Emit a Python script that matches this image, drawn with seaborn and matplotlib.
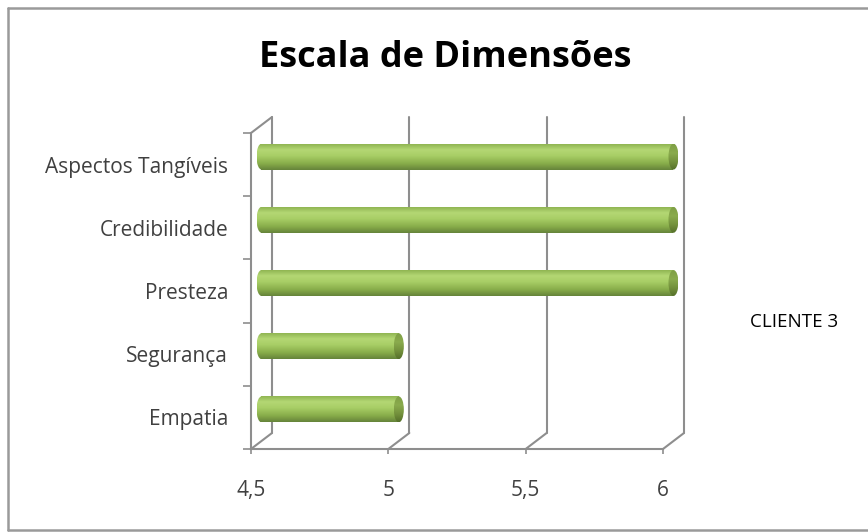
import numpy as np
import pandas as pd
import matplotlib
matplotlib.use("Agg")
import matplotlib.pyplot as plt
import seaborn as sns
from matplotlib.transforms import ScaledTranslation
from matplotlib.patches import Ellipse
from matplotlib.colors import LinearSegmentedColormap
from matplotlib.lines import Line2D

# ---- data -------------------------------------------------------------
dimensoes = ["Aspectos Tangíveis", "Credibilidade", "Presteza", "Segurança", "Empatia"]
valores = [6, 6, 6, 5, 5]
ticks_x = [4.5, 5, 5.5, 6]
rotulos_x = ["4,5", "5", "5,5", "6"]
serie = "CLIENTE 3"
titulo = "Escala de Dimensões"

# ---- figure -----------------------------------------------------------
W, H, DPI = 868, 532, 100
sns.set_theme(style="white")
plt.rcParams["font.family"] = ["Open Sans", "DejaVu Sans"]

fig = plt.figure(figsize=(W / DPI, H / DPI), dpi=DPI)
fig.patch.set_facecolor("white")

# front face of the 3-D plot box, in pixels from the top-left corner
L, R, T, B = 251, 663, 133, 449
DX, DY = 21, 16          # depth offset of the back wall, in pixels
ax = fig.add_axes([L / W, (H - B) / H, (R - L) / W, (B - T) / H])
ax.patch.set_alpha(0)

GRID = "#8e8e8e"
df = pd.DataFrame({"dimensao": dimensoes, "valor": valores})
bar_h = 0.41
sns.barplot(data=df, x="valor", y="dimensao", orient="h", width=bar_h,
            color="#9fc75e", ax=ax, zorder=3)

x0, x1 = ticks_x[0], ticks_x[-1]
ax.set_xlim(x0, x1)
ax.set_ylim(len(dimensoes) - 0.5, -0.5)
ax.set_xlabel("")
ax.set_ylabel("")


def shifted(dx, dy):
    return ax.transData + ScaledTranslation(dx / DPI, dy / DPI, fig.dpi_scale_trans)


mid = shifted(DX / 2, DY / 2)
back = shifted(DX, DY)

# ---- 3-D box: back wall gridlines and floor diagonals ----------------
ybot, ytop = ax.get_ylim()
for x in ticks_x:
    ax.add_line(Line2D([x, x], [ybot, ytop], transform=back, color=GRID,
                       lw=1.5, clip_on=False, zorder=1))
    fx, fy = ax.transData.transform((x, ybot))
    ax.add_line(Line2D([fx, fx + DX], [fy, fy + DY], transform=None,
                       color=GRID, lw=1.5, clip_on=False, zorder=1))
fx, fy = ax.transData.transform((x0, ytop))
ax.add_line(Line2D([fx, fx + DX], [fy, fy + DY], transform=None,
                   color=GRID, lw=1.5, clip_on=False, zorder=1))

# ---- cylinder shading -------------------------------------------------
body_cmap = LinearSegmentedColormap.from_list(
    "body", [(0.0, "#8fb552"), (0.22, "#b4d774"), (0.45, "#a8ce66"),
             (0.75, "#88ad4a"), (1.0, "#65833a")])
cap_cmap = LinearSegmentedColormap.from_list(
    "cap", [(0.0, "#7f9f45"), (0.35, "#8aab4d"), (0.7, "#728f3b"),
            (1.0, "#55702a")])
grad = np.linspace(0, 1, 256).reshape(-1, 1)
px_per_unit = (R - L) / (x1 - x0)
rx = 5 / px_per_unit      # horizontal radius of the cylinder ends

for patch in list(ax.patches):
    h = patch.get_height()
    yc = patch.get_y() + h / 2
    val = patch.get_x() + patch.get_width()
    patch.set_x(x0)
    patch.set_width(val - x0)
    patch.set_transform(mid)
    patch.set_clip_on(False)
    patch.set_edgecolor("none")

    ext = (x0 - rx, val, yc + h / 2, yc - h / 2)
    im = ax.imshow(grad, extent=ext, cmap=body_cmap, aspect="auto",
                   origin="upper", transform=mid, zorder=4,
                   interpolation="bilinear")
    im.set_clip_path(patch)

    left_end = Ellipse((x0, yc), 2 * rx, h, transform=mid)
    im2 = ax.imshow(grad, extent=ext, cmap=body_cmap, aspect="auto",
                    origin="upper", transform=mid, zorder=4,
                    interpolation="bilinear")
    im2.set_clip_box(fig.bbox)
    im2.set_clip_path(left_end)

    cap = Ellipse((val, yc), 2 * rx, h, transform=mid)
    im3 = ax.imshow(grad, extent=(val - rx, val + rx, yc + h / 2, yc - h / 2),
                    cmap=cap_cmap, aspect="auto", origin="upper",
                    transform=mid, zorder=5, interpolation="bilinear")
    im3.set_clip_box(fig.bbox)
    im3.set_clip_path(cap)

ax.set_xlim(x0, x1)
ax.set_ylim(len(dimensoes) - 0.5, -0.5)

# ---- axes, ticks and labels ------------------------------------------
for side in ("top", "right"):
    ax.spines[side].set_visible(False)
for side in ("left", "bottom"):
    ax.spines[side].set_color(GRID)
    ax.spines[side].set_linewidth(1.5)
    ax.spines[side].set_zorder(2)

ax.set_xticks(ticks_x)
ax.set_xticklabels(rotulos_x)
ax.set_yticks(range(len(dimensoes)))
ax.set_yticklabels(dimensoes)
ax.set_yticks(np.arange(-0.5, len(dimensoes)), minor=True)

ax.tick_params(axis="x", which="major", bottom=True, direction="out",
               length=3.6, width=1.2, color=GRID, pad=18.5,
               labelsize=15, labelcolor="#404040")
ax.tick_params(axis="y", which="major", left=True, length=0, pad=16.5,
               labelsize=15, labelcolor="#404040")
ax.tick_params(axis="y", which="minor", left=True, direction="out",
               length=5.8, width=1.2, color=GRID)

# ---- title, series label and chart border -----------------------------
fig.text(445 / W, (H - 67) / H, titulo, ha="center", va="baseline",
         fontsize=26, fontweight="bold", color="black")
fig.text(750 / W, (H - 327) / H, serie, ha="left", va="baseline",
         fontsize=13.5, color="black")

for xs, ys in (([8, W], [8, 8]), ([8, 8], [8, 530]), ([8, W], [530, 530])):
    fig.add_artist(Line2D(xs, [H - y for y in ys], transform=None,
                          color="#9a9a9a", lw=1.8))

fig.savefig("out.png", dpi=DPI, facecolor="white")
